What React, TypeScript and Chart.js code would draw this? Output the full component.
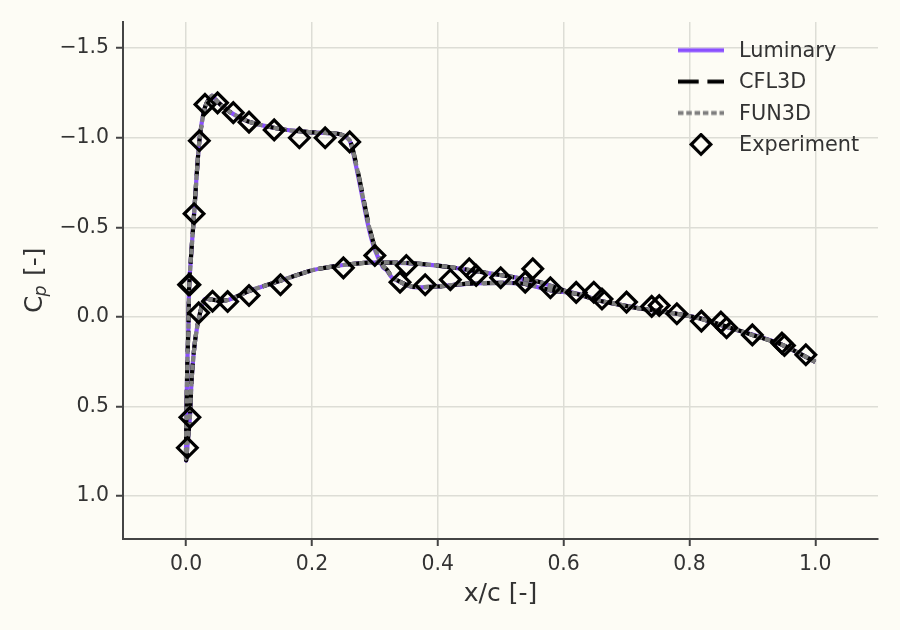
import React, { useEffect, useRef } from "react";
import { Chart, registerables } from "chart.js";

Chart.register(...registerables);

const xTicks = [0, 0.2, 0.4, 0.6, 0.8, 1.0];
const yTicks = [-1.5, -1.0, -0.5, 0, 0.5, 1.0];

// Airfoil contour: trailing edge, along the upper surface to the leading edge... then the lower surface.
const xSurface = [
  1.0, 0.947, 0.9, 0.86, 0.817, 0.78, 0.722, 0.679, 0.658, 0.621, 0.579, 0.536, 0.5, 0.446, 0.4, 0.361, 0.345, 0.335,
  0.327, 0.319, 0.313, 0.3, 0.29, 0.279, 0.269, 0.26, 0.245, 0.202, 0.155, 0.1, 0.07, 0.05, 0.041, 0.03, 0.021, 0.0127,
  0.005, 0.0037, 0.002, 0.0005, 0.0, 0.003, 0.006, 0.009, 0.0143, 0.022, 0.03, 0.043, 0.067, 0.1, 0.152, 0.202, 0.25,
  0.293, 0.35, 0.4, 0.436, 0.483, 0.52, 0.563, 0.6, 0.62, 0.658, 0.679, 0.722, 0.78, 0.817, 0.86, 0.9, 0.947, 1.0,
];
const cpLuminary = [
  0.25, 0.155, 0.098, 0.057, 0.008, -0.018, -0.047, -0.075, -0.09, -0.13, -0.148, -0.186, -0.19, -0.185, -0.17, -0.166,
  -0.187, -0.204, -0.22, -0.26, -0.277, -0.375, -0.5, -0.69, -0.86, -0.985, -1.02, -1.03, -1.046, -1.09, -1.143, -1.2,
  -1.235, -1.17, -0.98, -0.576, -0.18, 0.057, 0.25, 0.55, 0.8, 0.68, 0.56, 0.336, 0.131, -0.02, -0.1, -0.095, -0.095,
  -0.145, -0.205, -0.262, -0.29, -0.304, -0.3, -0.287, -0.269, -0.243, -0.222, -0.194, -0.148, -0.13, -0.09, -0.075,
  -0.047, -0.018, 0.008, 0.057, 0.098, 0.155, 0.25,
];
const cpCfl3d = [
  0.25, 0.155, 0.1, 0.055, 0.008, -0.018, -0.047, -0.075, -0.09, -0.128, -0.15, -0.186, -0.19, -0.186, -0.17, -0.168,
  -0.188, -0.206, -0.225, -0.265, -0.285, -0.39, -0.52, -0.71, -0.875, -0.985, -1.02, -1.03, -1.046, -1.09, -1.143,
  -1.2, -1.235, -1.17, -0.98, -0.576, -0.18, 0.06, 0.25, 0.55, 0.8, 0.68, 0.56, 0.336, 0.131, -0.02, -0.1, -0.095,
  -0.095, -0.145, -0.205, -0.262, -0.29, -0.304, -0.302, -0.287, -0.27, -0.243, -0.222, -0.194, -0.148, -0.13, -0.09,
  -0.075, -0.047, -0.018, 0.008, 0.055, 0.1, 0.155, 0.25,
];
const cpFun3d = [
  0.25, 0.155, 0.1, 0.056, 0.009, -0.018, -0.047, -0.076, -0.09, -0.13, -0.15, -0.187, -0.19, -0.186, -0.171, -0.168,
  -0.187, -0.205, -0.223, -0.263, -0.283, -0.385, -0.515, -0.705, -0.87, -0.985, -1.02, -1.03, -1.046, -1.09, -1.143,
  -1.2, -1.235, -1.17, -0.98, -0.576, -0.18, 0.058, 0.25, 0.55, 0.79, 0.68, 0.56, 0.336, 0.131, -0.02, -0.1, -0.095,
  -0.095, -0.145, -0.205, -0.262, -0.29, -0.304, -0.301, -0.287, -0.27, -0.243, -0.222, -0.194, -0.148, -0.13, -0.09,
  -0.076, -0.047, -0.018, 0.009, 0.056, 0.1, 0.155, 0.25,
];

const xExperiment = [
  0.002, 0.006, 0.004, 0.006, 0.0127, 0.021, 0.03, 0.05, 0.075, 0.1, 0.14, 0.18, 0.221, 0.26, 0.3, 0.34, 0.38, 0.42,
  0.461, 0.5, 0.539, 0.579, 0.62, 0.661, 0.7, 0.74, 0.78, 0.819, 0.859, 0.9, 0.947, 0.985, 0.02, 0.042, 0.066, 0.1,
  0.15, 0.25, 0.35, 0.45, 0.551, 0.648, 0.752, 0.85, 0.951,
];
const cpExperiment = [
  0.73, 0.56, -0.18, -0.18, -0.576, -0.983, -1.186, -1.195, -1.14, -1.087, -1.044, -1.0, -1.0, -0.977, -0.343, -0.194,
  -0.18, -0.208, -0.232, -0.219, -0.194, -0.163, -0.137, -0.1, -0.083, -0.059, -0.018, 0.023, 0.06, 0.1, 0.146, 0.211,
  -0.023, -0.088, -0.086, -0.12, -0.18, -0.274, -0.287, -0.269, -0.269, -0.138, -0.064, 0.029, 0.159,
];

const FONT = "'DejaVu Sans'";
const BACKGROUND = "#FDFCF5";
const TEXT = "#333333";
const SPINE = "#444444";
const GRID = "#DDDDD6";
const PURPLE = "#8A4FFF";
const GREY = "#7F7F7F";

const pairs = (xs: number[], ys: number[]) => xs.map((x, i) => ({ x, y: ys[i] }));
const fmt = (v: number) => (v < 0 ? "\u2212" : "") + Math.abs(v).toFixed(1);

function sample(draw: (c: CanvasRenderingContext2D) => void) {
  const cv = document.createElement("canvas");
  cv.width = 50;
  cv.height = 26;
  const c = cv.getContext("2d")!;
  draw(c);
  return cv;
}
function lineSample(color: string, dash: number[]) {
  return sample((c) => {
    c.strokeStyle = color;
    c.lineWidth = 4.2;
    c.setLineDash(dash);
    c.beginPath();
    c.moveTo(2, 11.5);
    c.lineTo(48, 11.5);
    c.stroke();
  });
}
function diamondSample() {
  return sample((c) => {
    c.strokeStyle = "#000";
    c.lineWidth = 3.2;
    c.beginPath();
    c.moveTo(25, 1.7);
    c.lineTo(34.8, 11.5);
    c.lineTo(25, 21.3);
    c.lineTo(15.2, 11.5);
    c.closePath();
    c.stroke();
  });
}

const pagePlugin = {
  id: "page",
  beforeDraw(chart: any) {
    const { ctx, width, height } = chart;
    ctx.save();
    ctx.fillStyle = BACKGROUND;
    ctx.fillRect(0, 0, width, height);
    ctx.restore();
  },
  afterLayout(chart: any) {
    const l = chart.legend;
    if (!l) return;
    const w = l.width;
    l.left = 662.8;
    l.right = l.left + w;
    l.top = 30.7;
    l.bottom = chart.chartArea.bottom;
  },
  // y-axis title with its italic subscript, which a scale title cannot set
  afterDraw(chart: any) {
    const { ctx } = chart;
    ctx.save();
    ctx.translate(42, 313);
    ctx.rotate(-Math.PI / 2);
    ctx.fillStyle = TEXT;
    ctx.textAlign = "left";
    ctx.textBaseline = "alphabetic";
    ctx.font = `25px ${FONT}`;
    ctx.fillText("C", 0, 0);
    ctx.fillText("[-]", 37, 0);
    ctx.font = `italic 17.5px ${FONT}`;
    ctx.fillText("p", 16.5, 3.7);
    ctx.restore();
  },
};

export default function App() {
  const ref = useRef<HTMLCanvasElement>(null);
  useEffect(() => {
    document.body.style.margin = "0";
    document.body.style.background = BACKGROUND;
    const line = (label: string, ys: number[], color: string, dash: number[], order: number) => ({
      label,
      data: pairs(xSurface, ys),
      showLine: true,
      borderColor: color,
      backgroundColor: color,
      borderWidth: 4.2,
      borderDash: dash,
      pointRadius: 0,
      tension: 0.25,
      order,
    });
    const samples = [
      lineSample(PURPLE, []),
      lineSample("#000", [20.7, 8.7]),
      lineSample(GREY, [5.5, 2.8]),
      diamondSample(),
    ];
    const chart = new Chart(ref.current!, {
      type: "scatter",
      data: {
        datasets: [
          line("Luminary", cpLuminary, PURPLE, [], 4),
          line("CFL3D", cpCfl3d, "#000000", [20.7, 8.7], 3),
          line("FUN3D", cpFun3d, GREY, [5.5, 2.8], 2),
          {
            label: "Experiment",
            data: pairs(xExperiment, cpExperiment),
            showLine: false,
            pointStyle: "rectRot",
            pointRadius: 9.8,
            pointBorderWidth: 3.2,
            borderColor: "#000000",
            backgroundColor: "rgba(0,0,0,0)",
            order: 1,
          },
        ] as any,
      },
      options: {
        animation: false,
        responsive: false,
        devicePixelRatio: 1,
        layout: { padding: { top: 22, right: 22, left: 0, bottom: 0 } },
        scales: {
          x: {
            type: "linear",
            min: -0.1003,
            max: 1.0997,
            afterFit: (s: any) => {
              s.height = 91;
            },
            afterBuildTicks: (s: any) => {
              s.ticks = xTicks.map((value) => ({ value }));
            },
            grid: { color: GRID, lineWidth: 1.5, tickColor: SPINE, tickLength: 7, tickWidth: 2 },
            border: { color: SPINE, width: 2 },
            ticks: {
              color: TEXT,
              font: { family: FONT, size: 20.4 },
              padding: 6,
              maxRotation: 0,
              autoSkip: false,
              callback: (v: any) => fmt(Number(v)),
            },
            title: {
              display: true,
              text: "x/c [-]",
              color: TEXT,
              font: { family: FONT, size: 25 },
              padding: { top: 21, bottom: 21 },
            },
          },
          y: {
            type: "linear",
            reverse: true,
            min: -1.646,
            max: 1.239,
            afterFit: (s: any) => {
              s.width = 123;
            },
            afterBuildTicks: (s: any) => {
              s.ticks = yTicks.map((value) => ({ value }));
            },
            grid: { color: GRID, lineWidth: 1.5, tickColor: SPINE, tickLength: 7, tickWidth: 2 },
            border: { color: SPINE, width: 2 },
            ticks: {
              color: TEXT,
              font: { family: FONT, size: 20.4 },
              padding: 7,
              autoSkip: false,
              callback: (v: any) => fmt(Number(v)),
            },
            title: { display: false },
          },
        },
        plugins: {
          title: { display: false },
          tooltip: { enabled: false },
          legend: {
            position: "chartArea",
            align: "start",
            labels: {
              usePointStyle: true,
              pointStyleWidth: 55.2,
              boxWidth: 55.2,
              boxHeight: 20,
              padding: 10.6,
              color: TEXT,
              font: { family: FONT, size: 20.8 },
              generateLabels: (c: any) =>
                c.data.datasets.map((d: any, i: number) => ({
                  text: d.label,
                  fontColor: TEXT,
                  pointStyle: samples[i],
                  datasetIndex: i,
                  hidden: false,
                  lineWidth: 0,
                  strokeStyle: "rgba(0,0,0,0)",
                  fillStyle: "rgba(0,0,0,0)",
                })),
            },
          },
        },
      } as any,
      plugins: [pagePlugin],
    } as any);
    return () => chart.destroy();
  }, []);
  return <canvas ref={ref} width={900} height={630} style={{ display: "block", width: 900, height: 630 }} />;
}
